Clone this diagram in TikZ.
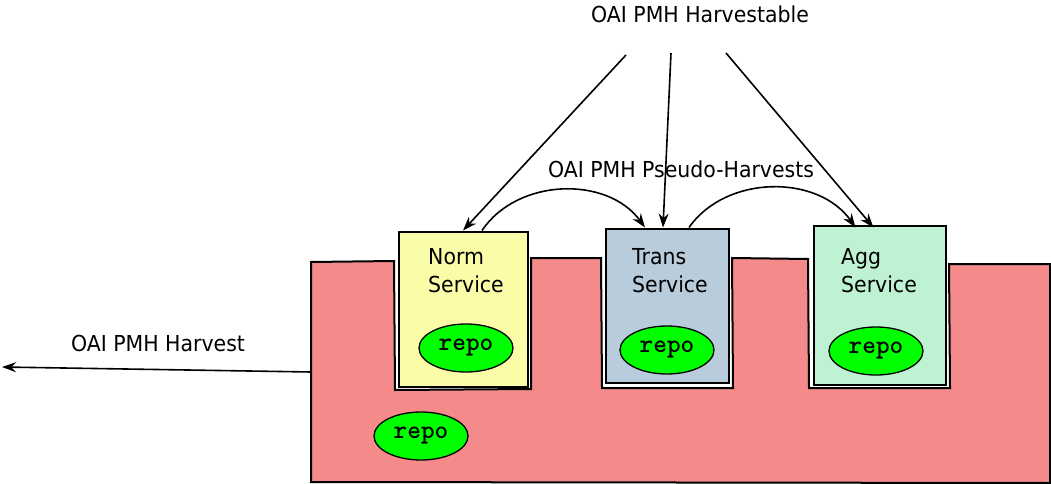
\documentclass[tikz,border=0pt]{standalone}
\usepackage{fontspec}
\setmainfont{DejaVu Sans}[FakeStretch=0.93]
\usetikzlibrary{arrows.meta,positioning,shapes}
\definecolor{hostred}{RGB}{244,138,138}
\definecolor{normyel}{RGB}{250,252,168}
\definecolor{transblue}{RGB}{184,204,220}
\definecolor{agggreen}{RGB}{190,242,210}
\definecolor{repogreen}{RGB}{0,255,0}

\begin{document}
\begin{tikzpicture}[x=1pt, y=-1pt,
  svc/.style={draw, line width=2pt, inner sep=0pt},
  repo/.style={ellipse, draw, line width=1.3pt, fill=repogreen, minimum width=94pt, minimum height=48pt, inner sep=0pt, font=\ttfamily\bfseries\fontsize{26}{26}\selectfont},
  lbl/.style={inner sep=0pt, font=\fontsize{22}{28}\selectfont},
  svctext/.style={lbl, align=left, anchor=west},
  harv/.style={-{Stealth[length=14pt,width=10pt]}, line width=1.6pt}]
\useasboundingbox (0,0) rectangle (1051,484);
% host repository with the three notches
\draw[fill=hostred, line width=2pt]
  (311,262) -- (394,261) -- (395,390) -- (531,389) -- (531,258) -- (601,258)
  -- (602,388) -- (733,388) -- (732,258) -- (808,259) -- (809,388) -- (950,388)
  -- (949,264) -- (1050,264) -- (1050,483) -- (311,482) -- cycle;
\node[svc, fill=normyel, minimum width=129pt, minimum height=155pt] (norm) at (463,309) {};
\node[svc, fill=transblue, minimum width=123pt, minimum height=154pt] (trans) at (667,305.5) {};
\node[svc, fill=agggreen, minimum width=132pt, minimum height=159pt] (agg) at (879.5,305) {};
\node[svctext] (normtxt) at (428,271) {Norm\\Service};
\node[svctext] (transtxt) at (632,271) {Trans\\Service};
\node[svctext] (aggtxt) at (841,271) {Agg\\Service};
\node[repo] (normrepo) at (466,348) {repo};
\node[repo] (transrepo) at (667,350) {repo};
\node[repo] (aggrepo) at (876,351) {repo};
\node[repo] (hostrepo) at (421,436) {repo};
% labels
\node[lbl] (harvestable) at (700,14) {OAI PMH Harvestable};
\node[lbl] (pseudo) at (681,169) {OAI PMH Pseudo-Harvests};
\node[lbl] (harvest) at (158,343) {OAI PMH Harvest};
\coordinate (h1) at (626,55);
\coordinate (h2) at (671,53);
\coordinate (h3) at (726,53);
\coordinate (out) at (311,372);
\coordinate (far) at (2,367);
\draw[harv] (h1) -- (norm.north);
\draw[harv] (h2) -- ([xshift=-4pt]trans.north);
\draw[harv] (h3) -- ([xshift=-6pt,yshift=-3pt]agg.north);
\draw[harv] ([xshift=19pt]norm.north) to[bend left=55] ([xshift=-22pt]trans.north);
\draw[harv] ([xshift=22pt]trans.north) to[bend left=55] ([xshift=-24pt,yshift=-3pt]agg.north);
\draw[harv] (out) -- (far);
\end{tikzpicture}
\end{document}
